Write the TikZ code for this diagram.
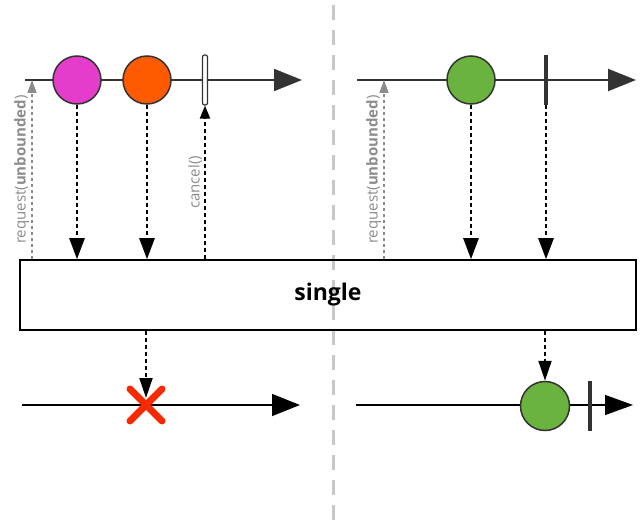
\documentclass[tikz,border=0pt]{standalone}
\usepackage{fontspec}
\setmainfont{Open Sans}
\usetikzlibrary{arrows.meta,positioning}
\definecolor{linegray}{HTML}{333333}
\definecolor{reqgray}{HTML}{8C8C8C}
\definecolor{sepgray}{HTML}{C8C8C8}
\definecolor{magentaball}{HTML}{E43DCC}
\definecolor{orangeball}{HTML}{FF5A00}
\definecolor{greenball}{HTML}{6AB33E}
\definecolor{errred}{HTML}{F52A00}

\begin{document}
\begin{tikzpicture}[x=1pt,y=-1pt]
    \tikzset{
        timeline/.style = {line width=2pt, draw=linegray, -{Triangle[length=28pt,width=22pt]}},
        marble/.style = {circle, minimum size=48pt, inner sep=0pt, draw=linegray, line width=1.5pt},
        emit/.style = {line width=2.5pt, dash pattern=on 4pt off 3pt, -{Triangle[length=21pt,width=15pt]}},
        emitsmall/.style = {line width=2pt, dash pattern=on 4pt off 3pt, -{Triangle[length=20pt,width=13pt]}},
        request/.style = {line width=1.5pt, draw=reqgray, dash pattern=on 3pt off 3pt, -{Triangle[length=13pt,width=9pt,fill=reqgray]}},
        upcall/.style = {line width=2pt, dash pattern=on 4pt off 3pt, -{Triangle[length=13pt,width=10pt]}},
        reqlabel/.style = {text=reqgray, font=\fontsize{15}{17}\selectfont, inner sep=2pt},
        cancelbar/.style = {rectangle, rounded corners=2pt, minimum width=5pt, minimum height=50pt, inner sep=0pt, draw=linegray, line width=1.2pt, fill=white},
        donebar/.style = {rectangle, minimum width=4pt, minimum height=50pt, inner sep=0pt, fill=linegray},
        operator/.style = {rectangle, minimum width=616pt, minimum height=70pt, draw=black, line width=1.5pt, font=\fontsize{23}{26}\selectfont\bfseries},
        separator/.style = {line width=3pt, draw=sepgray, dash pattern=on 15pt off 10pt}
    }
    \useasboundingbox (0,0) rectangle (640,521);

    % separator between the two cases
    \draw [separator] (333,-20) -- (333,530);

    % operator box
    \node (single) [operator] at (328,295) {single};

    % left case: source
    \coordinate (srcL) at (25,80);
    \coordinate (srcLend) at (302,80);
    \draw [timeline] (srcL) -- (srcLend);
    \node (pink) [marble, fill=magentaball] at (77,80) {};
    \node (orange) [marble, fill=orangeball] at (147,80) {};
    \node (cancel) [cancelbar] at (205,80) {};
    \coordinate (reqL) at (32,80);

    \draw [request] (single.north -| reqL) -- node[reqlabel, midway, above, sloped] {request(\textbf{unbounded})} (reqL);
    \draw [emit] (pink) -- (single.north -| pink);
    \draw [emit] (orange) -- (single.north -| orange);
    \draw [upcall] (single.north -| cancel) -- node[reqlabel, midway, above, sloped] {cancel()} (cancel.south);

    % left case: result
    \coordinate (outL) at (22,405);
    \coordinate (outLend) at (300,405);
    \draw [timeline, line width=1.5pt, draw=black, -{Triangle[length=28pt,width=22pt]}] (outL) -- (outLend);
    \coordinate (err) at (146,405);
    \draw [emitsmall] (single.south -| err) -- ([yshift=7pt]err);
    \draw [errred, line width=7pt, line cap=round] ([shift={(-16pt,16pt)}]err) -- ([shift={(16pt,-16pt)}]err)
        ([shift={(-16pt,-16pt)}]err) -- ([shift={(16pt,16pt)}]err);

    % right case: source
    \coordinate (srcR) at (357,80);
    \coordinate (srcRend) at (636,80);
    \draw [timeline] (srcR) -- (srcRend);
    \node (green) [marble, fill=greenball] at (471,80) {};
    \node (done) [donebar] at (546,80) {};
    \coordinate (reqR) at (384,80);

    \draw [request] (single.north -| reqR) -- node[reqlabel, midway, above, sloped] {request(\textbf{unbounded})} (reqR);
    \draw [emit] (green) -- (single.north -| green);
    \draw [emit] (done) -- (single.north -| done);

    % right case: result
    \coordinate (outR) at (356,405);
    \coordinate (outRend) at (633,405);
    \draw [timeline, line width=1.5pt, draw=black, -{Triangle[length=28pt,width=20pt]}] (outR) -- (outRend);
    \node (greenout) [marble, fill=greenball, minimum size=49pt] at (545,406) {};
    \node (doneout) [donebar] at (590,406) {};
    \draw [emitsmall] (single.south -| greenout) -- (greenout.north);

\end{tikzpicture}
\end{document}
